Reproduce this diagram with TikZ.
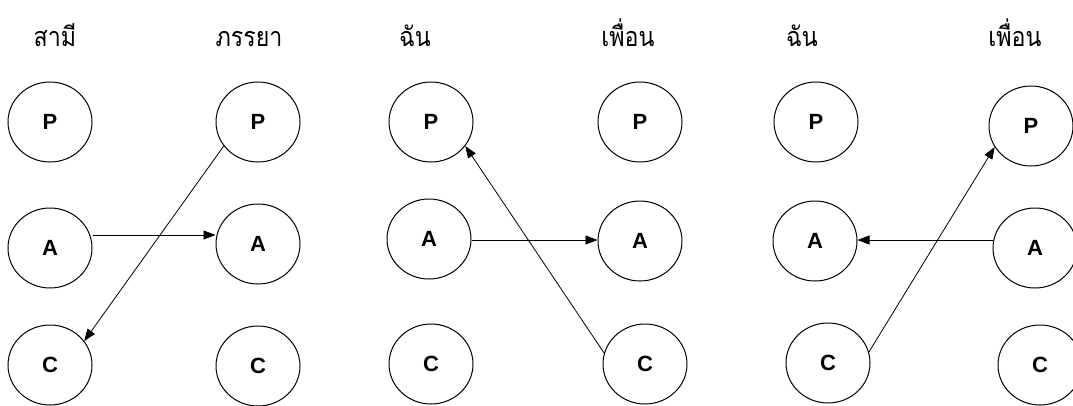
\documentclass[tikz,border=0pt]{standalone}
\usepackage{fontspec}
\newfontfamily\thaifont[Script=Thai]{Loma}
\newfontfamily\lettfont{Liberation Sans}
\usetikzlibrary{shapes.geometric,arrows.meta}
\newcommand{\thn}[1]{\scalebox{0.86}[1]{#1}}
\newcommand{\lt}[1]{\raisebox{-3pt}{#1}}
\tikzset{
  role/.style={ellipse,draw,line width=1pt,minimum width=84pt,minimum height=80pt,inner sep=0pt,
    font=\lettfont\bfseries\fontsize{22}{22}\selectfont},
  who/.style={font=\thaifont\fontsize{27}{27}\selectfont,anchor=base,inner sep=0pt},
  arr/.style={line width=0.8pt,-{Triangle[length=12pt,width=9pt]}}
}
\begin{document}
\begin{tikzpicture}[x=1pt,y=-1pt]
\useasboundingbox (0,0) rectangle (1073,405);
% labels
\node[who] (l1) at (55,46) {\thn{สามี}};
\node[who] (l2) at (249,46) {\thn{ภรรยา}};
\node[who] (l3) at (415,46) {\thn{ฉัน}};
\node[who] (l4) at (628,46) {\thn{เพื่อน}};
\node[who] (l5) at (802,46) {\thn{ฉัน}};
\node[who] (l6) at (1015,46) {\thn{เพื่อน}};
% column 1
\node[role] (p1) at (50,122) {\lt{P}};
\node[role] (a1) at (50,248) {\lt{A}};
\node[role] (c1) at (50,365) {\lt{C}};
% column 2
\node[role] (p2) at (258,122) {\lt{P}};
\node[role] (a2) at (258,244) {\lt{A}};
\node[role] (c2) at (258,366) {\lt{C}};
% column 3
\node[role] (p3) at (431,122) {\lt{P}};
\node[role] (a3) at (429,239) {\lt{A}};
\node[role] (c3) at (431,364) {\lt{C}};
% column 4
\node[role] (p4) at (640,122) {\lt{P}};
\node[role] (a4) at (640,241) {\lt{A}};
\node[role] (c4) at (645,364) {\lt{C}};
% column 5
\node[role] (p5) at (816,122) {\lt{P}};
\node[role] (a5) at (815,241) {\lt{A}};
\node[role] (c5) at (828,363) {\lt{C}};
% column 6
\node[role] (p6) at (1031,126) {\lt{P}};
\node[role] (a6) at (1035,248) {\lt{A}};
\node[role] (c6) at (1040,365) {\lt{C}};
% panel 1
\coordinate (h1) at (0,235);
\draw[arr] (a1.east |- h1) -- (a2.west |- h1);
\draw[arr] (p2.215) -- (c1.35);
% panel 2
\coordinate (h2) at (0,240);
\draw[arr] (a3.east |- h2) -- (a4.west |- h2);
\draw[arr] (c4.165) -- (p3.325);
% panel 3
\coordinate (h3) at (0,240);
\draw[arr] (a6.west |- h3) -- (a5.east |- h3);
\draw[arr] (c5.15) -- (p6.210);
\end{tikzpicture}
\end{document}
